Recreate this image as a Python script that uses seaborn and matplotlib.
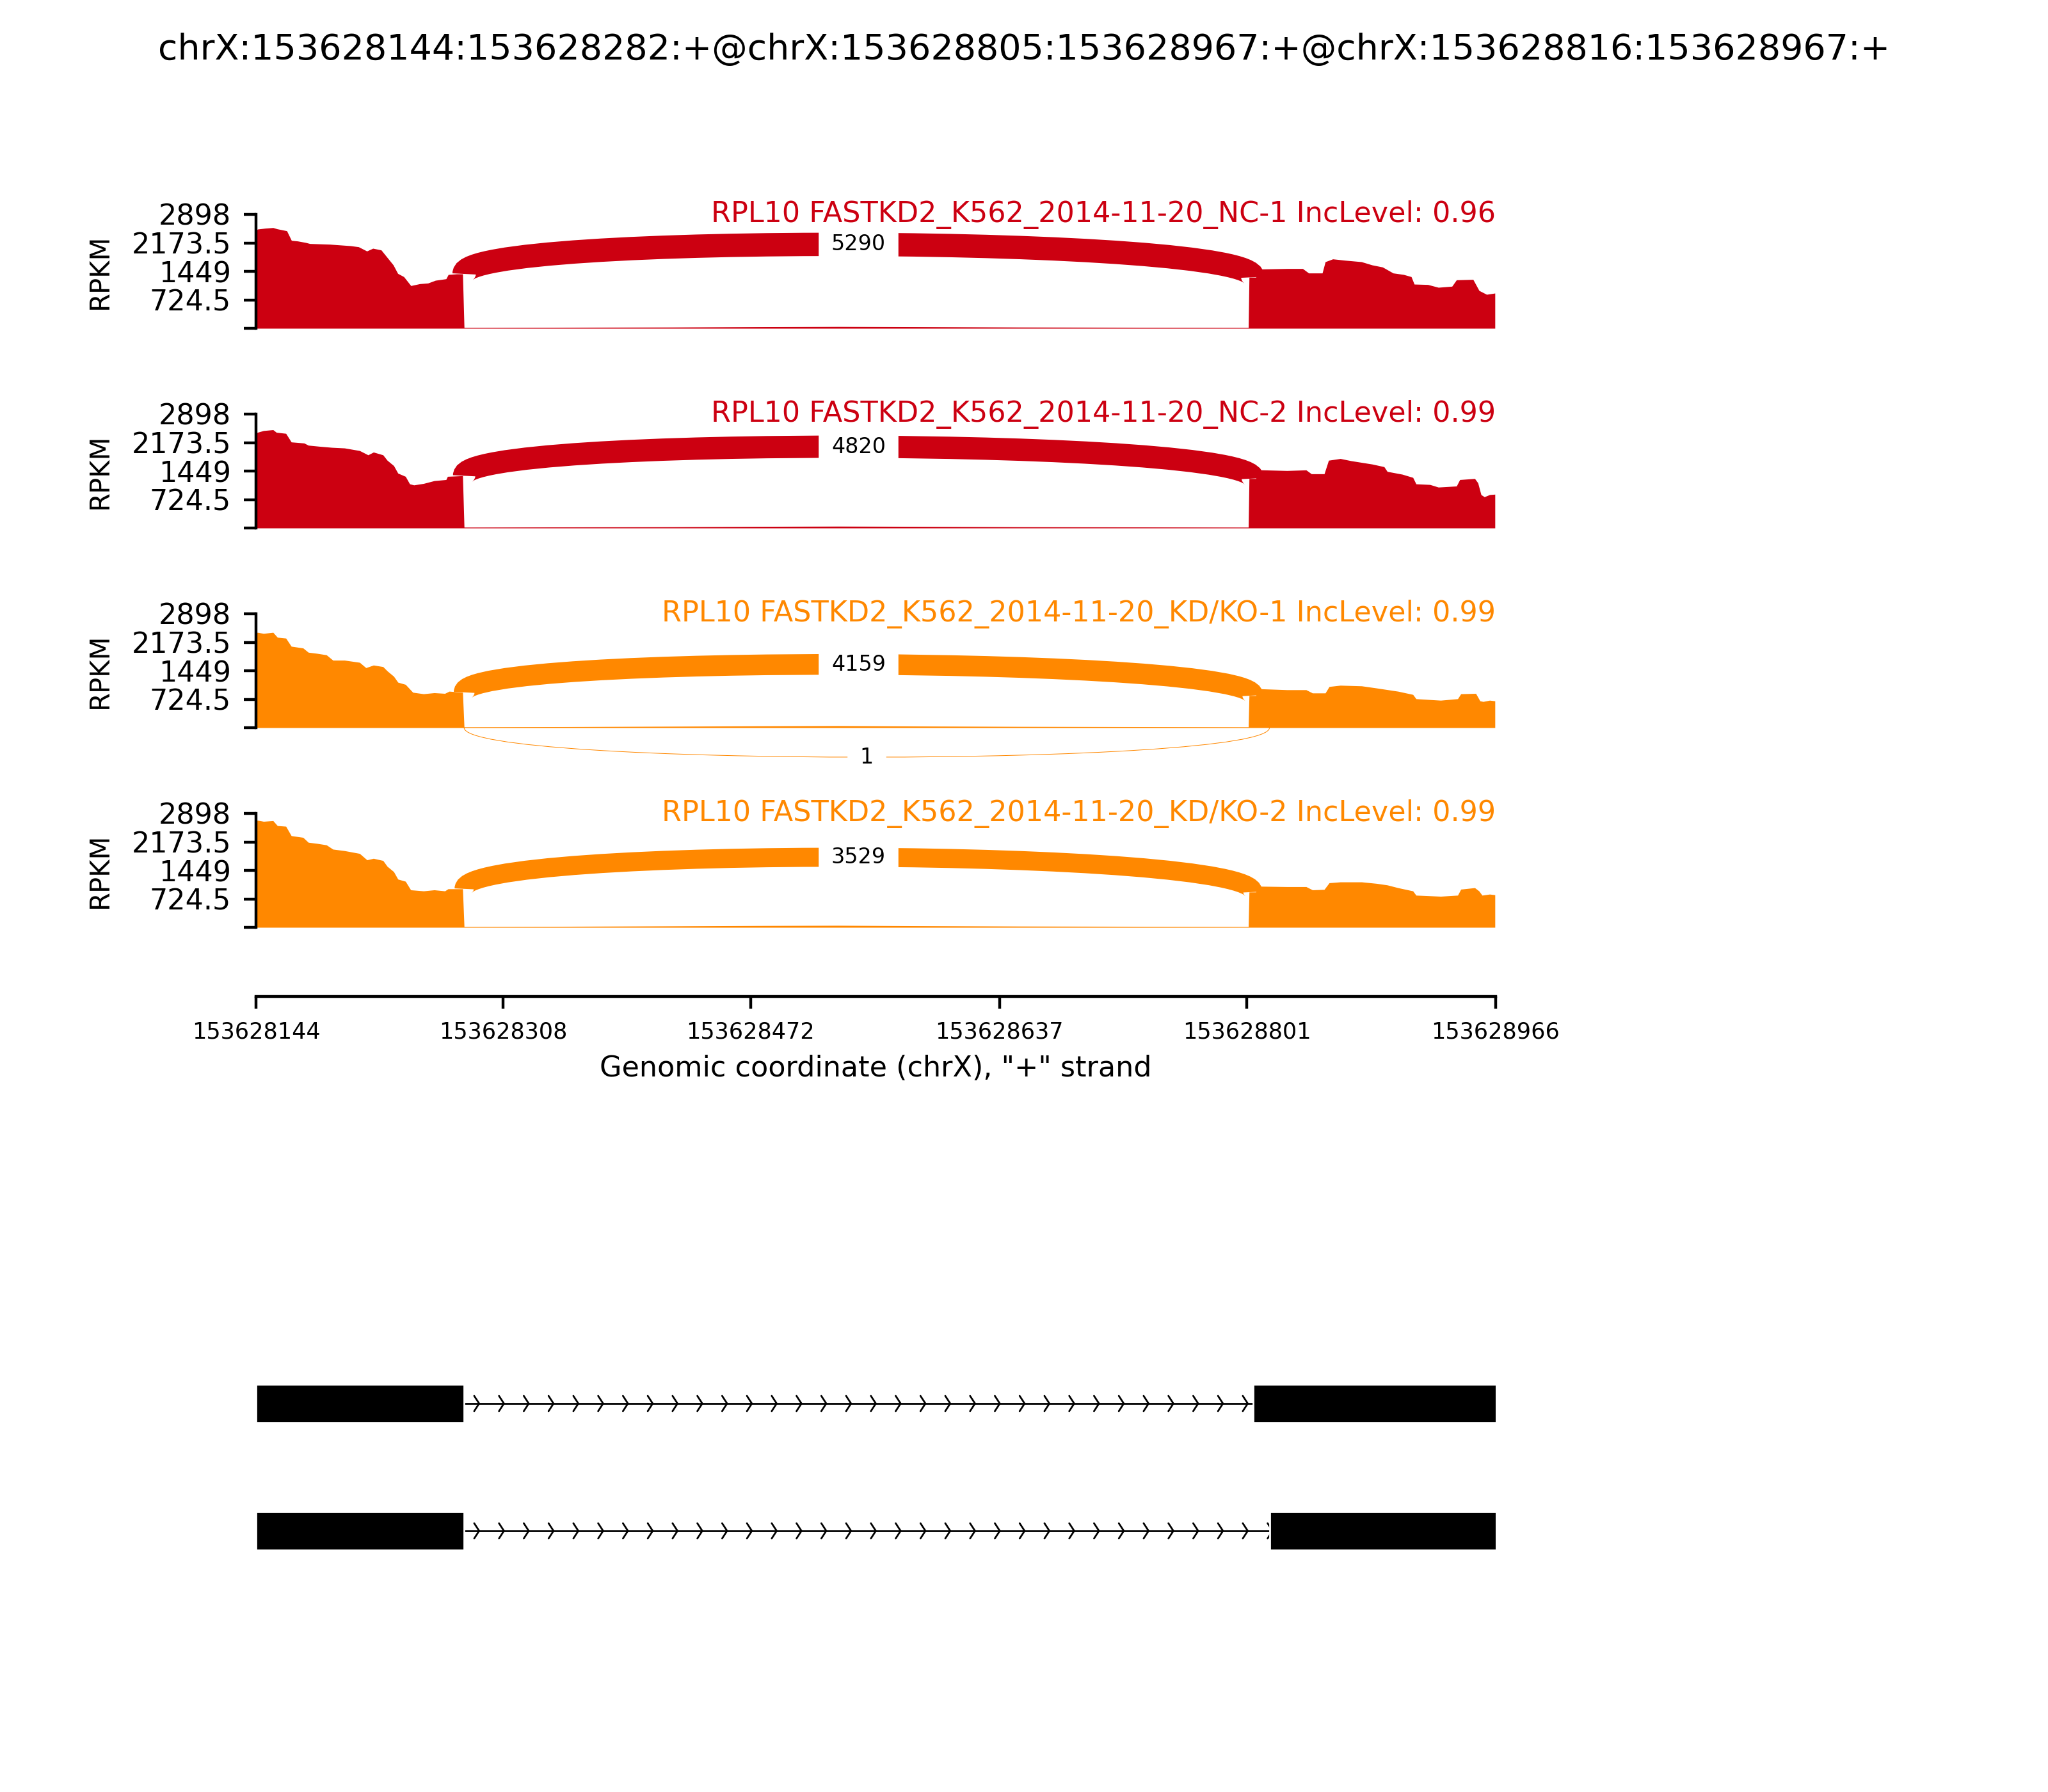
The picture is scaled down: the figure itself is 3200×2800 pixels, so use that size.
import numpy as np
import matplotlib
matplotlib.use("Agg")
import matplotlib.pyplot as plt
from matplotlib.path import Path
from matplotlib.patches import PathPatch
import seaborn as sns

# ---------------- data ----------------
event_title = "chrX:153628144:153628282:+@chrX:153628805:153628967:+@chrX:153628816:153628967:+"
gene_name = "RPL10"
sample_names = ["FASTKD2_K562_2014-11-20_NC-1", "FASTKD2_K562_2014-11-20_NC-2",
                "FASTKD2_K562_2014-11-20_KD/KO-1", "FASTKD2_K562_2014-11-20_KD/KO-2"]
inc_levels = ["0.96", "0.99", "0.99", "0.99"]
sample_colors = ["#CC0011", "#CC0011", "#FF8800", "#FF8800"]

BASE = 153628000
region_start = 153628144
region_end = 153628966
donor_site = 153628282
acceptor_long = 153628805
acceptor_short = 153628816
junction_long_reads = [5290, 4820, 4159, 3529]   # 282 -> 805
junction_short_reads = [0, 0, 1, 0]              # 282 -> 816

ymax = 2898
ytick_values = [0, 724.5, 1449, 2173.5, 2898]
ytick_labels = ["", "724.5", "1449", "2173.5", "2898"]
xtick_values = [153628144, 153628308, 153628472, 153628637, 153628801, 153628966]
xtick_labels = ["153628144", "153628308", "153628472", "153628637", "153628801", "153628966"]

isoform_exons = [[(153628144, 153628282), (153628805, 153628967)],
                 [(153628144, 153628282), (153628816, 153628967)]]

# coverage (position offset from BASE, RPKM)
intron_pos = [282, 350, 420, 480, 530, 580, 650, 720, 802]
intron_nc1 = [20, 25, 30, 40, 45, 40, 30, 25, 20]
intron_nc2 = [20, 25, 30, 40, 45, 40, 30, 25, 20]
intron_kd1 = [20, 25, 35, 45, 50, 40, 30, 25, 20]
intron_kd2 = [20, 25, 35, 45, 50, 40, 30, 25, 20]

left_pos_nc1 = [144, 145, 149.9, 155.3, 158, 163, 164.4, 167.5, 171.6, 177, 179.7, 193, 206.7, 212,
                217.5, 221.5, 227, 231, 235, 238, 242, 246.7, 252.6, 258, 263, 270, 271.5, 277, 281]
left_val_nc1 = [2480, 2523, 2545, 2561, 2530, 2491, 2480, 2236, 2220, 2182, 2155, 2138, 2100, 2073,
                1965, 2035, 1992, 1802, 1612, 1395, 1313, 1085, 1134, 1150, 1221, 1259, 1368, 1384, 1384]
right_pos_nc1 = [802.5, 807, 808, 828, 838, 842, 851, 853, 858, 866, 877, 884, 891, 898, 905, 910,
                 912, 921, 928, 937, 940, 951, 955, 960, 965.5]
right_val_nc1 = [1300, 1300, 1505, 1520, 1520, 1406, 1406, 1693, 1764, 1731, 1693, 1612, 1558, 1406,
                 1368, 1313, 1123, 1113, 1042, 1069, 1232, 1243, 961, 863, 895]

left_pos_nc2 = [144, 145, 149, 155.3, 157.5, 163.8, 167.4, 175.9, 178.7, 185.8, 194.3, 202.7, 212.7,
                218.3, 221.9, 228.2, 231, 235.3, 238.1, 243.1, 245.9, 248.7, 255.1, 262.2, 270, 271, 281]
left_val_nc2 = [2420, 2433, 2477, 2499, 2433, 2406, 2187, 2160, 2105, 2078, 2050, 2034, 1968,
                1859, 1930, 1859, 1722, 1586, 1394, 1312, 1121, 1094, 1132, 1203, 1230, 1312, 1329]
right_pos_nc2 = [802.5, 807, 808, 827.6, 840.3, 843.8, 852.3, 855.2, 863, 870, 884.2, 892, 894.1, 904,
                 911.1, 913.2, 922.4, 928, 940, 942.2, 952.1, 954.2, 956.3, 958.5, 962, 965.5]
right_val_nc2 = [1258, 1258, 1480, 1460, 1476, 1378, 1378, 1722, 1766, 1711, 1624, 1558, 1438, 1367,
                 1285, 1121, 1105, 1039, 1066, 1230, 1258, 1148, 848, 793, 848, 858]

left_pos_kd1 = [144, 145, 149, 155.3, 158.2, 163.8, 167.4, 175.2, 178.7, 184.4, 190.7, 195, 202.7,
                212.7, 216.9, 221.9, 228.2, 231, 235.3, 238.1, 243.1, 248, 255.1, 262.2, 269.2, 272.1, 281]
left_val_kd1 = [2410, 2424, 2397, 2424, 2299, 2277, 2070, 2026, 1917, 1890, 1852, 1716, 1716,
                1661, 1525, 1591, 1552, 1444, 1307, 1155, 1100, 899, 861, 888, 871, 926, 899]
right_pos_kd1 = [802.5, 807, 808, 827.6, 840.3, 844.5, 853, 855.6, 863, 877.1, 887, 901.2, 911.1,
                 913.2, 929.5, 940.8, 942.9, 952.8, 955.6, 957.7, 962, 965.5]
right_val_kd1 = [817, 817, 991, 964, 964, 882, 882, 1046, 1078, 1062, 1008, 926, 844,
                 735, 697, 735, 861, 871, 681, 665, 697, 681]

left_pos_kd2 = [144, 145, 149, 155.3, 158.2, 163.8, 167.4, 175.2, 178.7, 184.4, 190.7, 195, 202.7,
                212.7, 217.6, 221.9, 228.2, 231, 235.3, 238.1, 243.1, 246.6, 255.1, 262.2, 269.2, 271.4, 281]
left_val_kd2 = [2710, 2724, 2696, 2713, 2587, 2571, 2331, 2288, 2162, 2135, 2097, 1988, 1950,
                1879, 1716, 1754, 1700, 1552, 1416, 1226, 1171, 953, 926, 953, 926, 980, 980]
right_pos_kd2 = [802.5, 807, 808, 827.6, 840.3, 844.5, 852.3, 855.6, 863, 877.1, 887, 894.1, 901.2,
                 911.1, 913.2, 929.5, 940.8, 942.9, 952.1, 954.9, 957, 962, 965.5]
right_val_kd2 = [899, 899, 1046, 1035, 1035, 953, 964, 1133, 1155, 1155, 1117, 1078, 1008,
                 926, 817, 790, 817, 970, 1008, 926, 817, 844, 828]

coverage = [
    (left_pos_nc1, left_val_nc1, intron_nc1, right_pos_nc1, right_val_nc1),
    (left_pos_nc2, left_val_nc2, intron_nc2, right_pos_nc2, right_val_nc2),
    (left_pos_kd1, left_val_kd1, intron_kd1, right_pos_kd1, right_val_kd1),
    (left_pos_kd2, left_val_kd2, intron_kd2, right_pos_kd2, right_val_kd2),
]

# ---------------- style ----------------
sns.set_style("ticks", rc={
    "axes.edgecolor": "black", "axes.linewidth": 0.85,
    "xtick.color": "black", "ytick.color": "black",
    "xtick.major.size": 3.5, "ytick.major.size": 3.5,
    "xtick.major.width": 0.6, "ytick.major.width": 0.6,
    "text.color": "black", "axes.labelcolor": "black",
})
plt.rcParams["font.family"] = ["DejaVu Sans"]

W, H = 3200, 2800
fig = plt.figure(figsize=(8, 7), dpi=400)
fig.suptitle(event_title, fontsize=10, y=1 - 78 / H, va="center")

ylo_frac = 0.607
ylo = -ylo_frac * ymax
ax_left = 400 / W
ax_width = (2337 - 400) / W
panel_top_px = [335, 647, 959, 1271]
span_px = 178.0
ax_h_px = span_px * (1 + ylo_frac)


def bezier_mid(p):
    return ((p[0][0] + 3 * p[1][0] + 3 * p[2][0] + p[3][0]) / 8,
            (p[0][1] + 3 * p[1][1] + 3 * p[2][1] + p[3][1]) / 8)


for i in range(4):
    top = panel_top_px[i]
    ax = fig.add_axes([ax_left, 1 - (top + ax_h_px) / H, ax_width, ax_h_px / H])
    lp, lv, iv, rp, rv = coverage[i]
    xs = np.array(list(lp) + list(intron_pos) + list(rp)) + BASE
    ys = np.array(list(lv) + list(iv) + list(rv), dtype=float)
    color = sample_colors[i]
    ax.fill_between(xs, ys, 0, color=color, lw=0, zorder=1)

    # junction arcs
    h = 0.4125 * max(ys)
    yL = np.interp(donor_site - 1, xs, ys)
    yR = np.interp(acceptor_long, xs, ys)
    n = junction_long_reads[i]
    pts = [(donor_site, yL), (donor_site, yL + h), (acceptor_long, yR + h), (acceptor_long, yR)]
    path = Path(pts, [Path.MOVETO, Path.CURVE4, Path.CURVE4, Path.CURVE4])
    ax.add_patch(PathPatch(path, ec=color, fc="none", lw=0.0903 * np.sqrt(n), zorder=2))
    mx, my = bezier_mid(pts)
    ax.text(mx, my, str(n), fontsize=6, ha="center", va="center", zorder=4,
            bbox=dict(facecolor="w", edgecolor="w", boxstyle="square", pad=0.5))

    n2 = junction_short_reads[i]
    if n2 > 0:
        pts2 = [(donor_site, 0), (donor_site, -h), (acceptor_short, -h), (acceptor_short, 0)]
        path2 = Path(pts2, [Path.MOVETO, Path.CURVE4, Path.CURVE4, Path.CURVE4])
        ax.add_patch(PathPatch(path2, ec=color, fc="none", lw=0.0903 * np.sqrt(n2) * 2, zorder=2))
        mx2, my2 = bezier_mid(pts2)
        ax.text(mx2, my2, str(n2), fontsize=6, ha="center", va="center", zorder=4,
                bbox=dict(facecolor="w", edgecolor="w", boxstyle="square", pad=0.5))

    ax.set_xlim(region_start, region_end)
    ax.set_ylim(ylo, ymax)
    ax.set_yticks(ytick_values)
    ax.set_yticklabels(ytick_labels, fontsize=8)
    ax.spines["left"].set_bounds(0, ymax)
    ax.set_ylabel("RPKM", fontsize=7.5)
    ax.yaxis.set_label_coords(-0.115, (0.5 * ymax - ylo) / (ymax - ylo))
    ax.text(region_end, ymax, f"{gene_name} {sample_names[i]} IncLevel: {inc_levels[i]}",
            color=color, ha="right", va="center", fontsize=8, zorder=6)
    if i < 3:
        sns.despine(ax=ax, top=True, right=True, bottom=True)
        ax.set_xticks([])
    else:
        sns.despine(ax=ax, top=True, right=True)
        ax.set_xticks(xtick_values)
        ax.set_xticklabels(xtick_labels, fontsize=6.3)
        ax.set_xlabel('Genomic coordinate (chrX), "+" strand', fontsize=8, labelpad=3.2)

# gene structure
gax = fig.add_axes([ax_left, 1 - 2491.5 / H, ax_width, 398 / H])
gax.set_xlim(region_start, region_end)
gax.set_ylim(-0.5, 1.5)
gax.axis("off")
exon_w = 0.3
L = region_end - region_start
narrows = 50
spread = 0.2 * L / narrows
for k, exons in enumerate(isoform_exons):
    yloc = 1 - k
    for s, e in exons:
        gax.fill([s, e, e, s], [yloc - exon_w / 2, yloc - exon_w / 2, yloc + exon_w / 2, yloc + exon_w / 2],
                 "k", lw=0.5, zorder=20)
    gax.axhline(yloc, color="k", lw=0.5)
    for j in range(narrows):
        loc = region_start + j * L / narrows
        gax.plot([loc - spread, loc, loc - spread], [yloc - exon_w / 5, yloc, yloc + exon_w / 5],
                 lw=0.5, color="k")

fig.savefig("out.png", dpi=400)
